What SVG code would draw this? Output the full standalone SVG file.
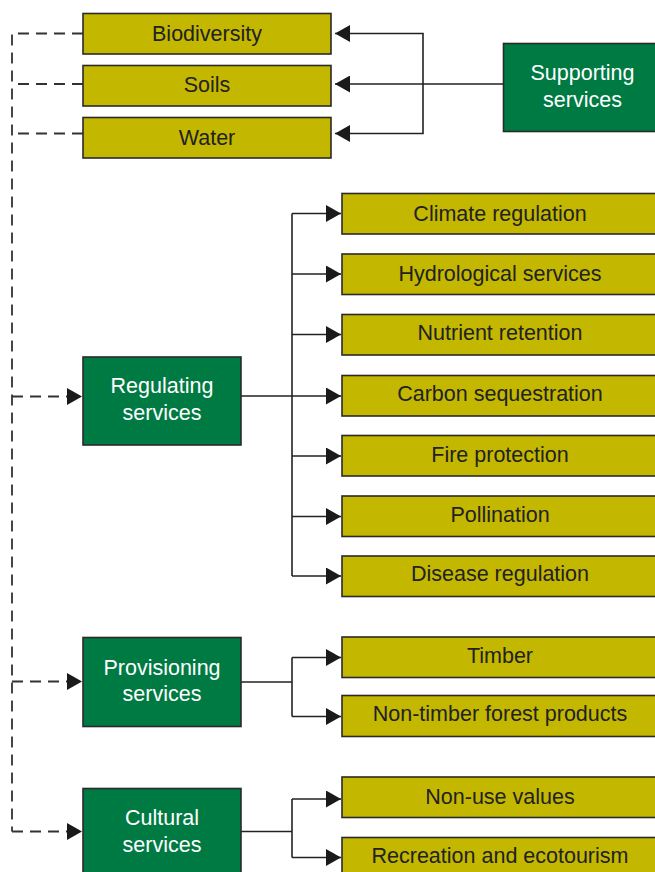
<svg xmlns="http://www.w3.org/2000/svg" width="655" height="872" viewBox="0 0 655 872">
<defs>
<style>
.y{fill:#C3B700;stroke:#2a2a2a;stroke-width:1.6}
.g{fill:#007A43;stroke:#2a2a2a;stroke-width:1.6}
.ty{font-family:"Liberation Sans",Arial,sans-serif;font-size:21.5px;fill:#222;text-anchor:middle}
.tg{font-family:"Liberation Sans",Arial,sans-serif;font-size:21.5px;fill:#fff;text-anchor:middle}
.c{fill:none;stroke:#222;stroke-width:1.6}
.d{fill:none;stroke:#333;stroke-width:1.8;stroke-dasharray:11 7}
</style>
<marker id="ah" markerUnits="userSpaceOnUse" markerWidth="16" markerHeight="17" refX="15" refY="8.5" orient="auto" viewBox="0 0 16 17">
<path d="M0,0 L15,8.5 L0,17 Z" fill="#1a1a1a"/>
</marker>
</defs>

<g id="connectors">
<!-- supporting -->
<path class="c" d="M503,84 H335" marker-end="url(#ah)"/>
<path class="c" d="M423,84 V33.5 H335" marker-end="url(#ah)"/>
<path class="c" d="M423,84 V133.5 H335" marker-end="url(#ah)"/>
<!-- dashed -->
<path class="d" d="M83,33.5 H12 V831.5"/>
<path class="d" d="M83,84 H12"/>
<path class="d" d="M83,133.5 H12"/>
<path class="d" d="M12,396.5 H82" marker-end="url(#ah)"/>
<path class="d" d="M12,681.5 H82" marker-end="url(#ah)"/>
<path class="d" d="M12,831.5 H82" marker-end="url(#ah)"/>
<!-- regulating -->
<path class="c" d="M241,396 H341" marker-end="url(#ah)"/>
<path class="c" d="M292,213.5 V576"/>
<path class="c" d="M292,213.5 H341" marker-end="url(#ah)"/>
<path class="c" d="M292,274 H341" marker-end="url(#ah)"/>
<path class="c" d="M292,334.5 H341" marker-end="url(#ah)"/>
<path class="c" d="M292,456 H341" marker-end="url(#ah)"/>
<path class="c" d="M292,516.5 H341" marker-end="url(#ah)"/>
<path class="c" d="M292,576 H341" marker-end="url(#ah)"/>
<!-- provisioning -->
<path class="c" d="M241,682 H292"/>
<path class="c" d="M292,657.5 V716.5"/>
<path class="c" d="M292,657.5 H341" marker-end="url(#ah)"/>
<path class="c" d="M292,716.5 H341" marker-end="url(#ah)"/>
<!-- cultural -->
<path class="c" d="M241,831.5 H292"/>
<path class="c" d="M292,799 V857.5"/>
<path class="c" d="M292,799 H341" marker-end="url(#ah)"/>
<path class="c" d="M292,857.5 H341" marker-end="url(#ah)"/>
</g>

<g id="biodiversity"><rect class="y" x="83" y="13.5" width="248" height="40.5"/><text class="ty" x="207" y="41">Biodiversity</text></g>
<g id="soils"><rect class="y" x="83" y="65.5" width="248" height="40.5"/><text class="ty" x="207" y="91.5">Soils</text></g>
<g id="water"><rect class="y" x="83" y="117.5" width="248" height="40.5"/><text class="ty" x="207" y="145">Water</text></g>

<g id="supporting"><rect class="g" x="503.5" y="43.5" width="158" height="88"/><text class="tg" x="582.5" y="80">Supporting</text><text class="tg" x="582.5" y="106.5">services</text></g>
<g id="regulating"><rect class="g" x="83" y="357" width="158" height="88"/><text class="tg" x="162" y="393">Regulating</text><text class="tg" x="162" y="420">services</text></g>
<g id="provisioning"><rect class="g" x="83" y="637.5" width="158" height="89"/><text class="tg" x="162" y="675">Provisioning</text><text class="tg" x="162" y="700.5">services</text></g>
<g id="cultural"><rect class="g" x="83" y="788.5" width="158" height="88"/><text class="tg" x="162" y="824.5">Cultural</text><text class="tg" x="162" y="851.5">services</text></g>

<g id="climate"><rect class="y" x="342" y="193.5" width="318" height="40.5"/><text class="ty" x="500" y="220.5">Climate regulation</text></g>
<g id="hydrological"><rect class="y" x="342" y="254" width="318" height="40.5"/><text class="ty" x="500" y="281">Hydrological services</text></g>
<g id="nutrient"><rect class="y" x="342" y="314.5" width="318" height="40.5"/><text class="ty" x="500" y="340">Nutrient retention</text></g>
<g id="carbon"><rect class="y" x="342" y="375.5" width="318" height="40.5"/><text class="ty" x="500" y="401">Carbon sequestration</text></g>
<g id="fire"><rect class="y" x="342" y="435.5" width="318" height="40.5"/><text class="ty" x="500" y="462">Fire protection</text></g>
<g id="pollination"><rect class="y" x="342" y="496" width="318" height="40.5"/><text class="ty" x="500" y="522">Pollination</text></g>
<g id="disease"><rect class="y" x="342" y="556" width="318" height="40.5"/><text class="ty" x="500" y="581">Disease regulation</text></g>
<g id="timber"><rect class="y" x="342" y="637" width="318" height="40.5"/><text class="ty" x="500" y="663">Timber</text></g>
<g id="ntfp"><rect class="y" x="342" y="695.5" width="318" height="41"/><text class="ty" x="500" y="721">Non-timber forest products</text></g>
<g id="nonuse"><rect class="y" x="342" y="777" width="318" height="40.5"/><text class="ty" x="500" y="804">Non-use values</text></g>
<g id="recreation"><rect class="y" x="342" y="837.5" width="318" height="41"/><text class="ty" x="500" y="863">Recreation and ecotourism</text></g>
</svg>
